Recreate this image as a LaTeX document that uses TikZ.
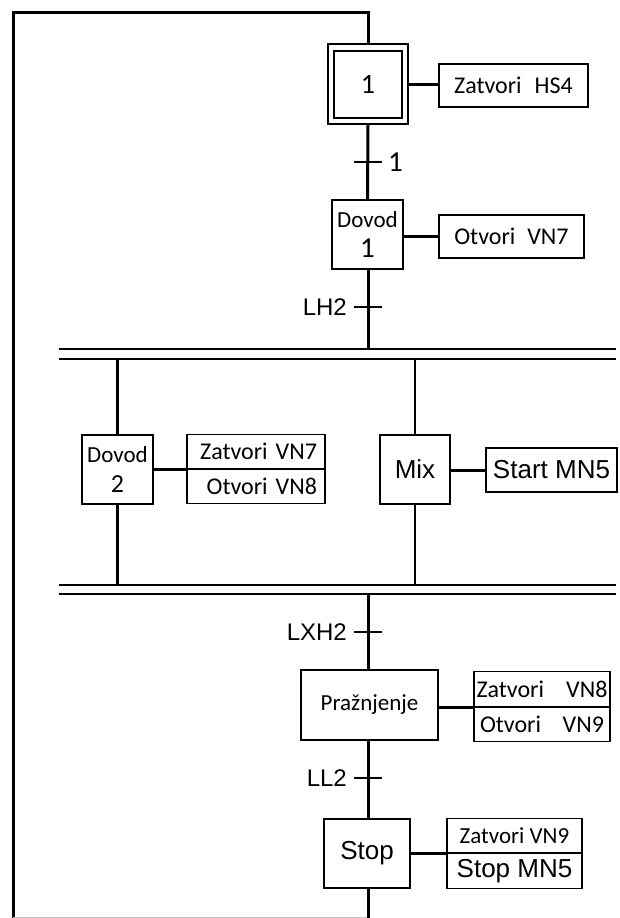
\documentclass[tikz,border=0pt]{standalone}
\usepackage{fontspec}
\setmainfont{Carlito}
\newfontfamily\arialf{Liberation Sans}
\newcommand{\bigdigit}[2]{{\fontsize{#1}{30}\selectfont #2}}
\begin{document}
\begin{tikzpicture}[x=1pt,y=-1pt,
  stepbox/.style={draw, line width=1.2pt, inner sep=0pt, align=center, font=\fontsize{23}{30}\selectfont},
  actbox/.style={draw, line width=1.2pt, inner sep=0pt, align=center, font=\fontsize{24}{28}\selectfont},
  flow/.style={line width=3pt},
  branch/.style={line width=2.8pt},
  link/.style={line width=3pt},
  tickmark/.style={line width=1.5pt},
  bar/.style={line width=1.2pt},
  tlabel/.style={font=\arialf\fontsize{24}{28}\selectfont, anchor=east, inner sep=0pt},
  afont/.style={font=\arialf\fontsize{26}{30}\selectfont},
]
\useasboundingbox (0,0) rectangle (620,918);

% step 1 (initial)
\node[draw, line width=1.2pt, minimum width=80pt, minimum height=80pt] (s1o) at (368,84) {};
\node[stepbox, minimum width=68pt, minimum height=67pt] (s1) at (368,84.5) {\bigdigit{28}{1}};
\node[actbox, minimum width=149pt, minimum height=43pt] (a1) at (513.5,85.5) {Zatvori\hspace{13pt}HS4};
\draw[link] (s1o.east) -- (s1o.east -| a1.west);

% loop border
\draw[flow, line join=miter] (13,918) -- (13,12) -| (s1o.north);
\coordinate (bl) at (13,917);
\coordinate (br) at (368,917);
\coordinate (bot) at (368,918);
\draw[line width=0.6pt, gray!50] (bl) -- (br);

% transition 1
\coordinate (t1) at (368,162);
\draw[tickmark] ([xshift=-14pt]t1) -- ([xshift=14pt]t1);
\node[font=\fontsize{29}{30}\selectfont, anchor=west, inner sep=0pt] (t1l) at ([xshift=20pt]t1) {1};

% step Dovod 1
\node[stepbox, minimum width=71pt, minimum height=69pt] (s2) at (367.5,234.5) {Dovod\\\bigdigit{29}{1}};
\node[actbox, minimum width=145pt, minimum height=43pt] (a2) at (511.5,236.5) {Otvori\hspace{12pt}VN7};
\draw[link] (s2.east |- a2.west) -- (a2.west);
\draw[flow] (s1o.south) -- (s2.north);

% transition LH2
\coordinate (t2) at (368,307);
\draw[tickmark] ([xshift=-14pt]t2) -- ([xshift=14pt]t2);
\node[tlabel] (t2l) at ([xshift=-21pt]t2) {LH2};

% top double bar
\coordinate (b1a) at (59,349);
\coordinate (b1b) at (59,359);
\coordinate (b1c) at (616,349);
\coordinate (b1d) at (616,359);
\draw[bar] (b1a) -- (b1c);
\draw[bar] (b1b) -- (b1d);
\draw[flow] (s2.south -| t2) -- (t2 |- b1a);

% parallel steps
\node[stepbox, minimum width=71pt, minimum height=69pt] (s3) at (117.5,469.5) {Dovod\\\bigdigit{26}{2}};
\node[actbox, minimum width=138pt, minimum height=34pt, anchor=south, text width=122pt, align=right] (a3t) at (256,469) {Zatvori\hspace{8pt}VN7};
\node[actbox, minimum width=138pt, minimum height=34pt, anchor=north, text width=122pt, align=right] (a3b) at (256,469) {Otvori\hspace{8pt}VN8};
\draw[link] (s3.east |- a3t.south west) -- (a3t.south west);

\node[stepbox, afont, minimum width=70pt, minimum height=69pt] (s4) at (415,469.5) {Mix};
\node[actbox, afont, minimum width=131pt, minimum height=44pt] (a4) at (551.5,470) {Start MN5};
\draw[link] (s4.east |- a4.west) -- (a4.west);

% bottom double bar
\coordinate (b2a) at (59,585);
\coordinate (b2b) at (59,594);
\coordinate (b2c) at (616,585);
\coordinate (b2d) at (616,594);
\draw[bar] (b2a) -- (b2c);
\draw[bar] (b2b) -- (b2d);

\draw[branch] (s3.north |- b1b) -- (s3.north);
\draw[branch] (s3.south) -- (s3.south |- b2a);
\draw[branch] (s4.north |- b1b) -- (s4.north);
\draw[branch] (s4.south) -- (s4.south |- b2a);

% transition LXH2
\coordinate (t3) at (368,632);
\draw[tickmark] ([xshift=-14pt]t3) -- ([xshift=14pt]t3);
\node[tlabel] (t3l) at ([xshift=-21pt]t3) {LXH2};

% step Praznjenje
\node[stepbox, minimum width=137pt, minimum height=70pt] (s5) at (369.5,705) {Pražnjenje};
\node[actbox, minimum width=136pt, minimum height=35pt, anchor=south] (a5t) at (542,707) {\makebox[131pt]{Zatvori\hfill VN8}};
\node[actbox, minimum width=136pt, minimum height=34pt, anchor=north] (a5b) at (542,707) {\makebox[124pt]{Otvori\hfill VN9}};
\draw[link] (s5.east |- a5t.south west) -- (a5t.south west);
\draw[flow] (t3 |- b2b) -- (s5.north -| t3);

% transition LL2
\coordinate (t4) at (368,778);
\draw[tickmark] ([xshift=-14pt]t4) -- ([xshift=14pt]t4);
\node[tlabel] (t4l) at ([xshift=-21pt]t4) {LL2};

% step Stop
\node[stepbox, afont, minimum width=86pt, minimum height=69pt] (s6) at (367,853.5) {Stop};
\node[actbox, font=\fontsize{23}{28}\selectfont, minimum width=135pt, minimum height=34pt, anchor=south] (a6t) at (514.5,853) {Zatvori VN9};
\node[actbox, afont, minimum width=135pt, minimum height=35pt, anchor=north] (a6b) at (514.5,853) {Stop MN5};
\draw[link] (s6.east |- a6t.south west) -- (a6t.south west);
\draw[flow] (s5.south -| t4) -- (s6.north -| t4);
\draw[flow] (s6.south -| t4) -- (bot);
\end{tikzpicture}
\end{document}
